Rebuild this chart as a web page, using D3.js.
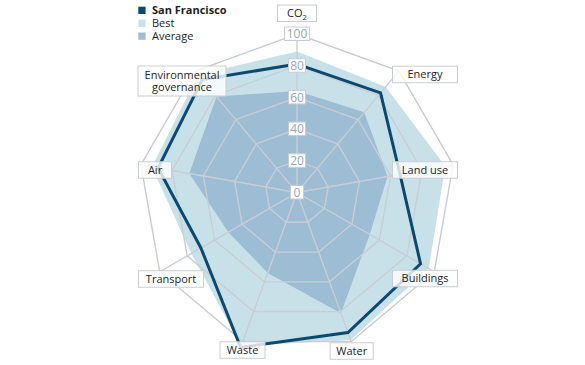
<!DOCTYPE html>
<html>
<head>
<meta charset="utf-8">
<script src="https://cdn.jsdelivr.net/npm/d3@7"></script>
<style>
  html, body { margin: 0; padding: 0; background: #fff; }
  svg { display: block; font-family: "Open Sans", "Noto Sans", sans-serif; }
</style>
</head>
<body>
<svg id="chart" width="585" height="365"></svg>
<script>
// ---- data ----
const axes = ["CO2", "Energy", "Land use", "Buildings", "Water", "Waste", "Transport", "Air", "Environmental governance"];
const sanFrancisco = [81, 82, 66, 90, 94, 104, 70, 89, 93];
const best = [89, 87, 95, 96, 99, 103, 77, 93, 97];
const average = [64, 66, 58, 53, 81, 54, 50, 69, 79];
const ringTicks = [0, 20, 40, 60, 80, 100];
const legendLabels = ["San Francisco", "Best", "Average"];

// ---- layout / style ----
const cx = 297, cy = 192.5, R = 158.5;
const colors = { sf: "#0b4a70", best: "#c8e1e9", avg: "#9dbdd4", grid: "#c9cdd3", tick: "#9aa6b2", text: "#1e1e1e" };
const labelNudge = [[0,-20.7],[26.1,3.4],[-28.1,5],[-9.3,6.75],[0.5,9.6],[-0.3,8.6],[11.3,7.25],[14.1,5],[-13.1,9.9]];
const labelBoxW = [39, 65, 65, 65, 43, 45, 65, 33, 88];

const svg = d3.select("#chart");
const r = d3.scaleLinear().domain([0, 100]).range([0, R]);
const angle = d3.scaleLinear().domain([0, axes.length]).range([0, 2 * Math.PI]);
const pt = (i, v) => [cx + r(v) * Math.sin(angle(i)), cy - r(v) * Math.cos(angle(i))];
const poly = vals => d3.line()(vals.map((v, i) => pt(i, v))) + "Z";

// fills
svg.append("path").attr("d", poly(best)).attr("fill", colors.best);
svg.append("path").attr("d", poly(average)).attr("fill", colors.avg);

// grid rings
ringTicks.filter(t => t > 0).forEach(t => {
  svg.append("path").attr("d", poly(axes.map(() => t)))
    .attr("fill", "none").attr("stroke", colors.grid).attr("stroke-width", 1.4);
});
// spokes
axes.forEach((a, i) => {
  const [x, y] = pt(i, 100);
  svg.append("line").attr("x1", cx).attr("y1", cy).attr("x2", x).attr("y2", y)
    .attr("stroke", colors.grid).attr("stroke-width", 1.4);
});

// San Francisco line
svg.append("path").attr("d", poly(sanFrancisco))
  .attr("fill", "none").attr("stroke", colors.sf).attr("stroke-width", 3).attr("stroke-linejoin", "miter");

// tick labels
ringTicks.forEach(t => {
  const [x, y] = pt(0, t);
  const g = svg.append("g").attr("transform", `translate(${x},${y})`);
  const w = t >= 100 ? 25 : (t >= 10 ? 17 : 13);
  g.append("rect").attr("x", -w / 2).attr("y", -7).attr("width", w).attr("height", 13.5)
    .attr("fill", "#fff").attr("stroke", colors.grid).attr("stroke-width", 1);
  g.append("text").attr("text-anchor", "middle").attr("y", 4.2)
    .attr("font-size", 12).attr("fill", colors.tick).text(t);
});

// axis labels
axes.forEach((a, i) => {
  const [vx, vy] = pt(i, 100);
  const x = vx + labelNudge[i][0], y = vy + labelNudge[i][1];
  const lines = a === "Environmental governance" ? ["Environmental", "governance"] : [a];
  const h = lines.length === 2 ? 30 : 16.5;
  const g = svg.append("g").attr("transform", `translate(${x},${y})`);
  g.append("rect").attr("x", -labelBoxW[i] / 2).attr("y", -h / 2).attr("width", labelBoxW[i]).attr("height", h)
    .attr("fill", "#fff").attr("fill-opacity", 0.8).attr("stroke", colors.grid).attr("stroke-width", 1);
  lines.forEach((ln, k) => {
    const t = g.append("text").attr("text-anchor", "middle")
      .attr("y", 3.8 + (k - (lines.length - 1) / 2) * 12)
      .attr("font-size", 11).attr("fill", colors.text);
    if (ln === "CO2") {
      t.append("tspan").text("CO");
      t.append("tspan").attr("font-size", 7.5).attr("dy", 2.5).text("2");
    } else {
      t.text(ln);
    }
  });
});

// legend
const legColors = [colors.sf, colors.best, colors.avg];
legendLabels.forEach((l, i) => {
  const y = 6.7 + i * 12.9;
  svg.append("rect").attr("x", 138.3).attr("y", y).attr("width", 7.3).attr("height", 7.3).attr("fill", legColors[i]);
  svg.append("text").attr("x", 152).attr("y", y + 7.3).attr("font-size", 11)
    .attr("font-weight", i === 0 ? "bold" : "normal").attr("fill", colors.text).text(l);
});
</script>
</body>
</html>
